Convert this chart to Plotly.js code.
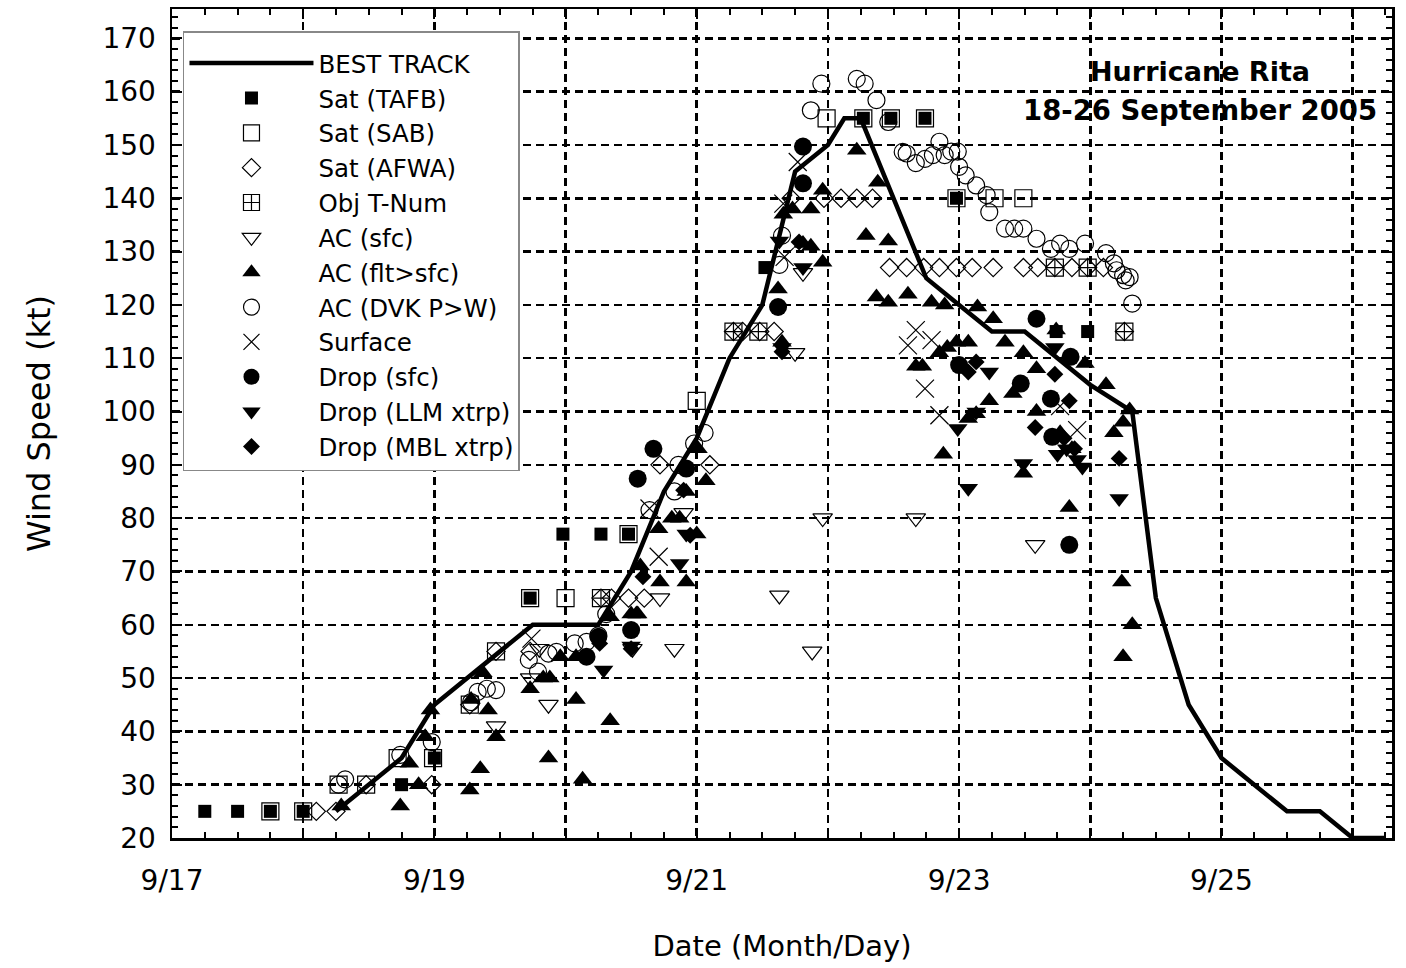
<!DOCTYPE html>
<html><head><meta charset="utf-8">
<script src="https://cdn.plot.ly/plotly-3.0.1.min.js"></script>
<style>html,body{margin:0;padding:0;background:#fff}#chart{width:1406px;height:968px}</style>
</head><body><div id="chart"></div>
<script>
// x = day of September 2005 (UTC, fractional), y = wind speed (kt)
const bestX = [18.25,18.5,18.75,19.0,19.25,19.5,19.75,20.0,20.25,20.5,20.75,21.0,21.25,21.5,21.75,22.0,22.125,22.25,22.5,22.75,23.0,23.25,23.5,23.75,24.0,24.32,24.5,24.75,25.0,25.25,25.5,25.75,26.0,26.25];
const bestY = [25,30,35,45,50,55,60,60,60,70,85,95,110,120,145,150,155,155,140,125,120,115,115,110,105,100,65,45,35,30,25,25,20,20];

const tafbX = [17.25,17.5,17.75,18.0,18.75,19.0,19.73,19.98,20.27,20.48,21.52,22.27,22.48,22.74,22.98,23.74,23.98];
const tafbY = [25,25,25,25,30,35,65,77,77,77,127,155,155,155,140,115,115];

const sabX = [17.75,18.0,18.27,18.48,18.72,18.99,19.27,19.47,19.73,20.0,20.48,21.0,21.99,22.27,22.48,22.74,22.98,23.27,23.49];
const sabY = [25,25,30,30,35,35,45,55,65,65,77,102,155,155,155,155,140,140,140];

const afwaX = [18.1,18.25,18.48,18.98,19.27,19.47,19.73,20.27,20.35,20.48,20.6,20.72,21.1,21.28,21.35,21.48,21.59,21.72,21.97,22.1,22.22,22.34,22.47,22.6,22.73,22.85,22.98,23.1,23.26,23.49,23.6,23.73,23.86,23.98,24.1,24.26];
const afwaY = [25,25,30,30,45,55,55,65,65,65,65,90,90,115,115,115,115,140,140,140,140,140,127,127,127,127,127,127,127,127,127,127,127,127,127,115];

const objX = [20.27,21.28,21.47,23.73,23.98,24.26];
const objY = [65,115,115,127,127,115];

const acSfcX = [19.47,19.73,19.8,19.87,20.51,20.72,20.83,20.9,21.63,21.75,21.81,21.88,21.96,22.67,23.58];
const acSfcY = [41,50,55.5,45,55.5,65,55.5,81,65.5,111,126,55,80,80,75];

const acFltX = [18.29,18.74,18.81,18.88,18.93,18.97,19.27,19.28,19.35,19.37,19.41,19.47,19.73,19.83,19.87,19.88,19.96,20.08,20.08,20.13,20.34,20.34,20.5,20.54,20.55,20.57,20.71,20.72,20.81,20.87,20.92,20.92,21.0,21.01,21.07,21.62,21.65,21.66,21.73,21.81,21.87,21.87,21.96,21.96,22.22,22.29,22.37,22.38,22.46,22.46,22.61,22.67,22.72,22.79,22.89,22.88,22.85,22.91,22.98,23.07,23.14,23.26,23.35,23.49,23.59,23.23,23.13,23.07,23.41,23.59,23.49,23.84,23.74,23.96,24.12,24.3,24.25,24.18,24.24,24.32,24.25,23.77,23.86];
const acFltY = [26,26,34,30,39,44,29,46,33,51,44,39,48,50,35,50,54,46,54,31,42,61.5,62,62,62,71,78,68,80,80,85,68,77,93,87,123,113,137,138,131.5,138,131,141.5,128,149,133,121.5,143,120.5,132,122,108.5,108.5,120.5,120,92,111,112,113,113,119.6,117.4,113,111,108,102,99.6,98.7,103.4,100,88.4,82,115.3,109,105,100.3,98,96,68,60,54,96,93];

const dvkX = [18.27,18.32,18.74,18.98,19.28,19.33,19.4,19.47,19.72,19.79,19.87,19.93,20.07,20.16,20.25,20.31,20.64,20.83,20.86,20.98,21.06,21.63,21.65,21.87,21.95,22.22,22.28,22.37,22.46,22.57,22.6,22.67,22.74,22.8,22.85,22.89,22.94,22.99,23.0,23.05,23.13,23.21,23.23,23.35,23.42,23.49,23.59,23.7,23.77,23.84,23.96,24.12,24.18,24.2,24.25,24.27,24.3,24.32];
const dvkY = [30,31,35.6,38,45.5,47.4,48,47.75,53.4,51.2,54.6,54.9,56.5,56.8,58,62,81.5,85,90,94,96,127.5,133,156.5,161.5,162.4,161.5,158.4,154.3,148.7,148.4,146.6,147.4,148.1,150.6,148.1,148.75,148.75,145.9,144.3,142.4,140.6,137.4,134.3,134.3,134.3,132.4,130.5,131.5,130.5,131.5,129.7,127.8,126.5,125.6,124.6,125.2,120.25];

const sfcX = [19.74,20.64,20.71,21.66,21.77,21.67,22.67,22.61,22.79,22.74,22.85,23.77,23.9];
const sfcY = [57.4,81.8,72.75,139,146.8,129,115.25,112.4,113.4,104.3,99.3,101,96.5];

const dropSfcX = [20.16,20.25,20.5,20.55,20.67,20.92,21.62,21.81,21.81,23.0,23.47,23.59,23.7,23.71,23.85,23.84];
const dropSfcY = [54,57.75,59,87.4,93,89.3,119.6,142.8,149.7,108.7,105.25,117.4,102.4,95.25,110.25,75];

const llmX = [20.29,20.5,20.87,20.92,21.63,21.81,21.65,22.99,23.07,23.23,23.13,23.73,23.49,23.94,24.22,23.75,23.82,23.9];
const llmY = [51.5,56,71.5,77,132,127,112,96.8,85.6,107.4,99.9,112,90.25,89.6,83.7,92,93,91];

const mblX = [20.26,20.5,20.59,20.9,20.95,21.65,21.78,23.07,23.13,23.58,23.73,23.84,24.22,23.8,23.88];
const mblY = [56.5,55.5,69,85.25,76.8,111.2,131.8,107.4,109.3,97,107,102,91.2,95,93];

const dayTicks = [17,18,19,20,21,22,23,24,25,26];
const dayLabels = ['9/17','','9/19','','9/21','','9/23','','9/25',''];

const FONT = 'DejaVu Sans, Verdana, sans-serif';

function pts(name, x, y, symbol, size, lw) {
  return {type:'scatter', mode:'markers', name:name, x:x, y:y,
    marker:{symbol:symbol, size:size, color:'#000', line:{color:'#222', width: lw}}};
}
const traces = [
  {type:'scatter', mode:'lines', name:'BEST TRACK', x:bestX, y:bestY, line:{color:'#000', width:4.5}},
  pts('Sat (TAFB)', tafbX, tafbY, 'square', 13, 0),
  pts('Sat (SAB)', sabX, sabY, 'square-open', 17, 1.2),
  pts('Sat (AFWA)', afwaX, afwaY, 'diamond-open', 14, 1.2),
  pts('Obj T-Num', objX, objY, 'square-cross-open', 17, 1.2),
  pts('AC (sfc)', acSfcX, acSfcY, 'triangle-down-open', 17, 1.2),
  pts('AC (flt>sfc)', acFltX, acFltY, 'triangle-up', 17, 0),
  pts('AC (DVK P>W)', dvkX, dvkY, 'circle-open', 17, 1.2),
  pts('Surface', sfcX, sfcY, 'x-thin-open', 18, 1.2),
  pts('Drop (sfc)', dropSfcX, dropSfcY, 'circle', 18, 0),
  pts('Drop (LLM xtrp)', llmX, llmY, 'triangle-down', 17, 0),
  pts('Drop (MBL xtrp)', mblX, mblY, 'diamond', 13, 0)
];

const axisCommon = {
  showline:true, linecolor:'#000', linewidth:2.5, mirror:'ticks',
  ticks:'inside', tickcolor:'#000', tickwidth:2, ticklen:10,
  showgrid:true, gridcolor:'#000', gridwidth:2.5, griddash:'8px,5px',
  zeroline:false, tickfont:{family:FONT, size:28, color:'#000'}
};
const layout = {
  width:1406, height:968,
  margin:{l:172, r:14, t:9, b:130},
  paper_bgcolor:'#fff', plot_bgcolor:'#fff',
  showlegend:true,
  legend:{x:0.009, y:0.973, xanchor:'left', yanchor:'top', bgcolor:'#fff',
    bordercolor:'#888', borderwidth:1.5, traceorder:'normal',
    itemwidth:124, title:{text:' ', font:{size:6}},
    font:{family:FONT, size:24.5, color:'#000'}},
  xaxis: Object.assign({}, axisCommon, {
    range:[17, 26.3], tickmode:'array', tickvals:dayTicks, ticktext:dayLabels,
    ticklabelstandoff:16,
    minor:{dtick:0.25, ticks:'inside', ticklen:6, tickwidth:2, tickcolor:'#000', showgrid:false},
    title:{text:'Date (Month/Day)', standoff:40, font:{family:FONT, size:29, color:'#000'}}
  }),
  yaxis: Object.assign({}, axisCommon, {
    range:[20, 175.5], dtick:10, tick0:20, ticklabelstandoff:8,
    minor:{dtick:2, ticks:'inside', ticklen:6, tickwidth:2, tickcolor:'#000', showgrid:false},
    title:{text:'Wind Speed (kt)', standoff:42, font:{family:FONT, size:32, color:'#000'}}
  }),
  annotations:[
    {xref:'paper', yref:'paper', x:0.843, y:0.925, xanchor:'center', yanchor:'middle', showarrow:false,
     text:'<b>Hurricane Rita</b>', font:{family:FONT, size:27, color:'#000'}},
    {xref:'paper', yref:'paper', x:0.843, y:0.878, xanchor:'center', yanchor:'middle', showarrow:false,
     text:'<b>18-26 September 2005</b>', font:{family:FONT, size:27.5, color:'#000'}}
  ]
};
Plotly.newPlot('chart', traces, layout, {displayModeBar:false, staticPlot:true});
</script>
</body></html>
